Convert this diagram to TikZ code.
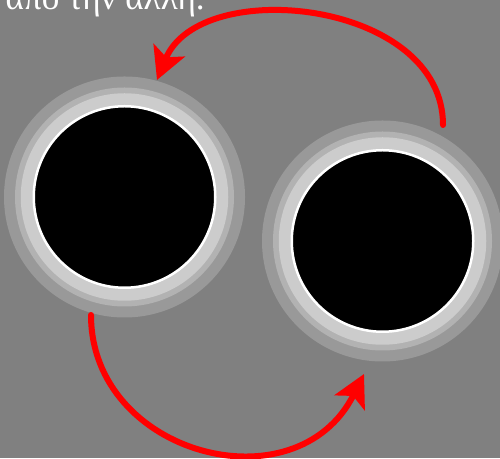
\documentclass[tikz,border=0pt]{standalone}
\usepackage{fontspec}
\setmainfont{Liberation Serif}
\usetikzlibrary{arrows.meta}
\definecolor{ringa}{gray}{0.6}
\definecolor{ringb}{gray}{0.7}
\definecolor{ringc}{gray}{0.8}
\tikzstyle{ring}=[circle,inner sep=0pt,outer sep=0pt]
\tikzstyle{hole}=[circle,fill=black,draw=white,line width=0.05cm,minimum size=3.63cm,inner sep=0pt]
\tikzstyle{move}=[red,line width=0.12cm,line cap=round,-{Stealth[length=0.64cm,width=0.67cm,inset=0.15cm]}]

\begin{document}
\begin{tikzpicture}
  \clip (0,0) rectangle (10,9.16);
  \fill[gray] (0,0) rectangle (10,9.16);
  \node[anchor=base east,inner sep=0pt,white,font=\fontsize{20}{24}\selectfont] (txt) at (4.10,8.97) {από την άλλη.};
  % left hole
  \node[ring,fill=ringa,minimum size=4.82cm] (r1a) at (2.49,5.22) {};
  \node[ring,fill=ringb,minimum size=4.38cm] (r1b) at (2.49,5.22) {};
  \node[ring,fill=ringc,minimum size=4.15cm] (r1c) at (2.49,5.22) {};
  \node[hole] (h1) at (2.49,5.22) {};
  % right hole
  \node[ring,fill=ringa,minimum size=4.82cm] (r2a) at (7.65,4.34) {};
  \node[ring,fill=ringb,minimum size=4.38cm] (r2b) at (7.65,4.34) {};
  \node[ring,fill=ringc,minimum size=4.15cm] (r2c) at (7.65,4.34) {};
  \node[hole] (h2) at (7.65,4.34) {};
  % ends of the two arrows
  \coordinate (t1) at (8.86,6.66);
  \coordinate (t2) at (3.14,7.56);
  \coordinate (b1) at (1.82,2.86);
  \coordinate (b2) at (7.28,1.68);
  \draw[move] (t1) .. controls (8.86,9.16) and (4.00,9.66) .. (t2);
  \draw[move] (b1) .. controls (1.82,0.06) and (5.93,-1.02) .. (b2);
\end{tikzpicture}
\end{document}
